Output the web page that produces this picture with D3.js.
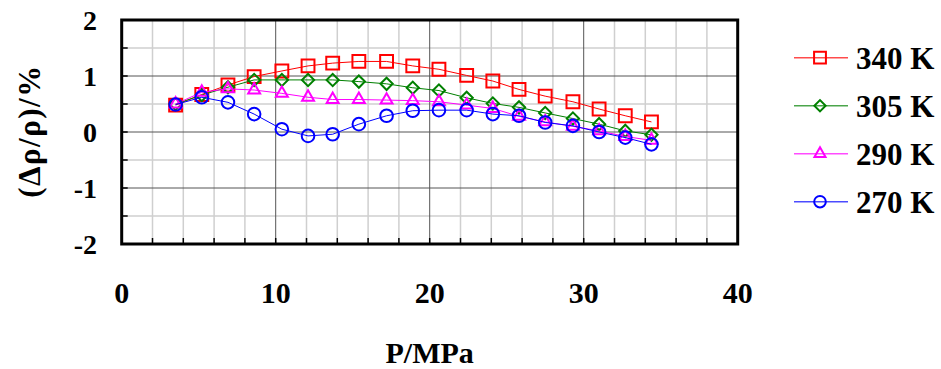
<!DOCTYPE html>
<html>
<head>
<meta charset="utf-8">
<script src="https://cdn.jsdelivr.net/npm/d3@7/dist/d3.min.js"></script>
<style>
  html, body { margin: 0; padding: 0; background: #fff; }
  svg { display: block; }
</style>
</head>
<body>
<svg id="chart" width="941" height="369"></svg>
<script>
// ---- Data ----
const pressures = [3.5, 5.2, 6.9, 8.6, 10.4, 12.1, 13.7, 15.4, 17.2, 18.9, 20.6, 22.4, 24.1, 25.8, 27.5, 29.3, 31.0, 32.7, 34.4];
const seriesNames = ["340 K", "305 K", "290 K", "270 K"];
const values340 = [0.48, 0.67, 0.84, 0.99, 1.09, 1.18, 1.23, 1.26, 1.26, 1.18, 1.12, 1.01, 0.91, 0.76, 0.64, 0.54, 0.41, 0.29, 0.18];
const values305 = [0.50, 0.66, 0.80, 0.93, 0.93, 0.93, 0.93, 0.90, 0.86, 0.79, 0.74, 0.61, 0.51, 0.44, 0.34, 0.24, 0.14, 0.02, -0.05];
const values290 = [0.50, 0.71, 0.77, 0.75, 0.69, 0.62, 0.58, 0.58, 0.57, 0.56, 0.54, 0.48, 0.42, 0.28, 0.18, 0.10, 0.02, -0.08, -0.15];
const values270 = [0.49, 0.62, 0.53, 0.32, 0.05, -0.07, -0.04, 0.14, 0.29, 0.38, 0.39, 0.39, 0.32, 0.29, 0.17, 0.11, 0.00, -0.10, -0.22];
const xTicks = [0, 10, 20, 30, 40];
const yTicks = [-2, -1, 0, 1, 2];
const xTitle = "P/MPa";
const yTitle = "(Δρ/ρ)/%";

const colors = ["#ff0000", "#008000", "#ff00ff", "#0000ff"];
const symbols = [d3.symbolSquare, d3.symbolSquare, d3.symbolTriangle, d3.symbolCircle];
const symRot = [0, 45, 0, 0];
const symSizes = [165, 75, 62, 125];
const allValues = [values340, values305, values290, values270];
const FONT = "'Liberation Serif', 'Times New Roman', Times, 'DejaVu Serif', serif";

// ---- Layout ----
const svg = d3.select("#chart");
const x = d3.scaleLinear().domain([0, 40]).range([121.7, 737.7]);
const y = d3.scaleLinear().domain([-2, 2]).range([244, 20]);

const g = svg.append("g");
g.selectAll(".vminor").data(d3.range(2, 40, 2).filter(v => v % 10 !== 0)).join("line")
  .attr("x1", d => x(d)).attr("x2", d => x(d)).attr("y1", y(2)).attr("y2", y(-2))
  .attr("stroke", "#cfcfcf").attr("stroke-width", 1.5);
g.selectAll(".hminor").data([-1.5, -0.5, 0.5, 1.5]).join("line")
  .attr("x1", x(0)).attr("x2", x(40)).attr("y1", d => y(d)).attr("y2", d => y(d))
  .attr("stroke", "#cfcfcf").attr("stroke-width", 1.5);
g.selectAll(".vmajor").data([10, 20, 30]).join("line")
  .attr("x1", d => x(d)).attr("x2", d => x(d)).attr("y1", y(2)).attr("y2", y(-2))
  .attr("stroke", "#555").attr("stroke-width", 1);
g.selectAll(".hmajor").data([-1, 0, 1]).join("line")
  .attr("x1", x(0)).attr("x2", x(40)).attr("y1", d => y(d)).attr("y2", d => y(d))
  .attr("stroke", "#555").attr("stroke-width", 1);

g.selectAll(".bt").data(d3.range(2, 40, 2)).join("line")
  .attr("x1", d => x(d)).attr("x2", d => x(d)).attr("y1", y(-2)).attr("y2", y(-2) - 6)
  .attr("stroke", "#000").attr("stroke-width", 1.5);
g.selectAll(".lt").data(d3.range(-1.5, 2, 0.5)).join("line")
  .attr("x1", x(0)).attr("x2", x(0) + 6).attr("y1", d => y(d)).attr("y2", d => y(d))
  .attr("stroke", "#000").attr("stroke-width", 1.5);

const line = d3.line().x((d, i) => x(pressures[i])).y(d => y(d));
allValues.forEach((vals, si) => {
  const sg = svg.append("g");
  sg.append("path").datum(vals).attr("d", line)
    .attr("fill", "none").attr("stroke", colors[si]).attr("stroke-width", 1);
  sg.selectAll("path.m").data(vals).join("path").attr("class", "m")
    .attr("transform", (d, i) => `translate(${x(pressures[i])},${y(d)}) rotate(${symRot[si]})`)
    .attr("d", d3.symbol().type(symbols[si]).size(symSizes[si]))
    .attr("fill", "none").attr("stroke", colors[si]).attr("stroke-width", 2);
});

svg.append("rect").attr("x", x(0)).attr("y", y(2)).attr("width", x(40) - x(0)).attr("height", y(-2) - y(2))
  .attr("fill", "none").attr("stroke", "#000").attr("stroke-width", 3);

function txt(sel) {
  return sel.attr("font-family", FONT).attr("font-weight", "bold").attr("fill", "#000");
}

txt(svg.selectAll(".xl").data(xTicks).join("text"))
  .attr("x", d => x(d)).attr("y", 303).attr("text-anchor", "middle")
  .attr("font-size", 30).text(d => d);
txt(svg.selectAll(".yl").data(yTicks).join("text"))
  .attr("x", 97).attr("y", d => y(d)).attr("dy", "0.35em").attr("text-anchor", "end")
  .attr("font-size", 28).text(d => d);

txt(svg.append("text")).attr("x", x(20)).attr("y", 363).attr("text-anchor", "middle")
  .attr("font-size", 30).text(xTitle);
txt(svg.append("text")).attr("transform", `translate(40,131) rotate(-90)`).attr("text-anchor", "middle")
  .attr("font-size", 31).attr("letter-spacing", 1.5).text(yTitle);

const leg = svg.append("g");
seriesNames.forEach((name, si) => {
  const ly = 57.7 + si * 48;
  leg.append("line").attr("x1", 794).attr("x2", 848).attr("y1", ly).attr("y2", ly)
    .attr("stroke", colors[si]).attr("stroke-width", 1.5).attr("opacity", 0.7);
  leg.append("path").attr("transform", `translate(820,${ly}) rotate(${symRot[si]})`)
    .attr("d", d3.symbol().type(symbols[si]).size(symSizes[si] * 0.85))
    .attr("fill", "none").attr("stroke", colors[si]).attr("stroke-width", 2);
  txt(leg.append("text")).attr("x", 856).attr("y", ly).attr("dy", "0.35em")
    .attr("font-size", 31).text(name);
});
</script>
</body>
</html>
